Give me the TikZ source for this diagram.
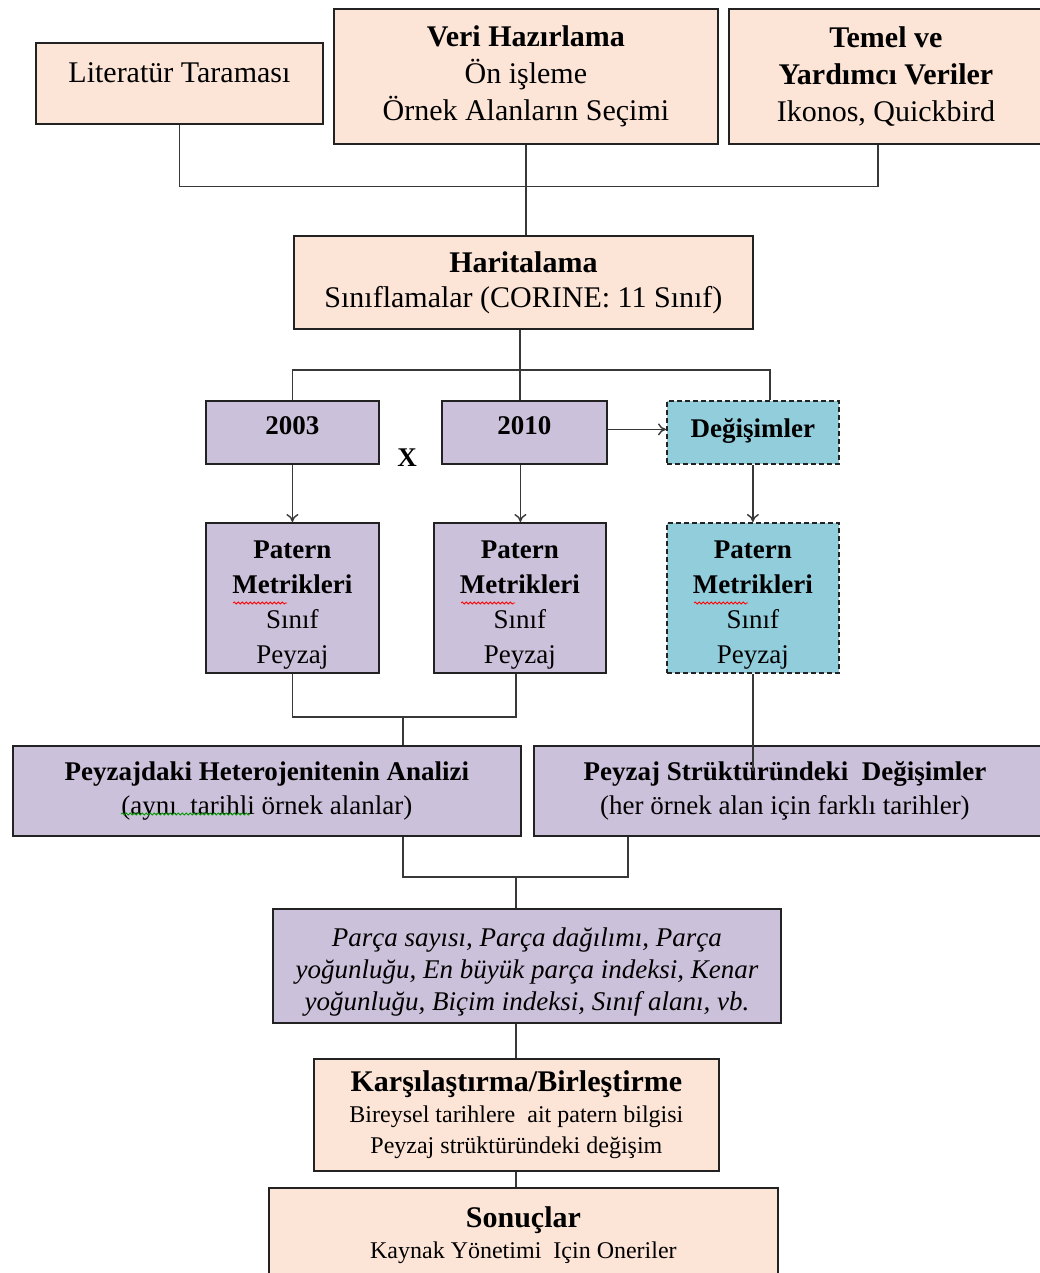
\documentclass[tikz,border=0pt]{standalone}
\usepackage{fontspec}
\setmainfont{Liberation Serif}
\usetikzlibrary{arrows.meta,decorations.pathmorphing}
\definecolor{peach}{HTML}{FCE4D6}
\definecolor{lilac}{HTML}{CCC1DA}
\definecolor{teal}{HTML}{92CDDC}
\definecolor{edge}{HTML}{222222}
\newcommand\fA{\fontsize{30}{37}\selectfont}
\newcommand\fB{\fontsize{27}{34}\selectfont}
\newcommand\fC{\fontsize{24}{31}\selectfont}
\newcommand\padtop[1]{\rule{0pt}{#1}}
\newcommand\padbot[1]{\rule[-#1]{0pt}{#1}}
\begin{document}
\begin{tikzpicture}[x=1pt,y=-1pt,
  basebox/.style={draw=edge, line width=1.8pt, inner sep=0pt, align=center, anchor=north west},
  peachbox/.style={basebox, fill=peach},
  lilacbox/.style={basebox, fill=lilac},
  tealbox/.style={basebox, fill=teal, dashed, dash pattern=on 5pt off 3pt},
  conn/.style={draw=edge!90, line width=1.4pt},
  arr/.style={conn, -{To[length=8pt,width=12pt]}},
  squig/.style={decorate, decoration={snake, amplitude=1pt, segment length=4pt}, line width=0.8pt}]
\useasboundingbox (0,0) rectangle (1039,1273);
\fill[white] (0,0) rectangle (1039,1273);

% top row
\node[peachbox, minimum width=287pt, minimum height=81pt, font=\fA] (lit) at (35,42) {Literatür Taraması\padbot{22pt}};
\node[peachbox, minimum width=384pt, minimum height=135pt, font=\fA] (veri) at (333,8) {\textbf{Veri Hazırlama}\\Ön işleme\\Örnek Alanların Seçimi};
\node[peachbox, minimum width=330pt, minimum height=135pt, font=\fA] (tem) at (728,8) {\hspace*{-16pt}\textbf{Temel ve}\\\hspace*{-16pt}\textbf{Yardımcı Veriler}\\\hspace*{-16pt}Ikonos, Quickbird};

\node[peachbox, minimum width=459pt, minimum height=93pt, font=\fA] (har) at (293,235) {\textbf{Haritalama}\\[-2pt]Sınıflamalar (CORINE: 11 Sınıf)};

% years
\node[lilacbox, minimum width=173pt, minimum height=63pt, font=\fB\bfseries] (y03) at (205,400) {2003\padbot{14pt}};
\node[lilacbox, minimum width=165pt, minimum height=63pt, font=\fB\bfseries] (y10) at (441,400) {2010\padbot{14pt}};
\node[tealbox, minimum width=172pt, minimum height=63pt, font=\fB\bfseries] (ch) at (666,400) {Değişimler\padbot{8pt}};
\node[font=\fB\bfseries, inner sep=0pt] (xx) at (407,458) {X};

% pattern metrics
\node[lilacbox, minimum width=173pt, minimum height=150pt, font=\fontsize{27}{35}\selectfont] (p1) at (205,522) {\padtop{33pt}\textbf{Patern}\\\textbf{Metrikleri}\\Sınıf\\Peyzaj};
\node[lilacbox, minimum width=172pt, minimum height=150pt, font=\fontsize{27}{35}\selectfont] (p2) at (433,522) {\padtop{33pt}\textbf{Patern}\\\textbf{Metrikleri}\\Sınıf\\Peyzaj};
\node[tealbox, minimum width=172pt, minimum height=150pt, font=\fontsize{27}{35}\selectfont] (p3) at (666,522) {\padtop{33pt}\textbf{Patern}\\\textbf{Metrikleri}\\Sınıf\\Peyzaj};

% analysis row
\node[lilacbox, minimum width=508pt, minimum height=90pt, font=\fB] (het) at (12,745) {\textbf{Peyzajdaki Heterojenitenin Analizi}\\(aynı\ \ tarihli örnek alanlar)};
\node[lilacbox, minimum width=520pt, minimum height=90pt, font=\fB] (str) at (533,745) {\hspace*{-18pt}\textbf{Peyzaj Strüktüründeki\ \ Değişimler}\\\hspace*{-18pt}(her örnek alan için farklı tarihler)};

% metrics list
\node[lilacbox, minimum width=508pt, minimum height=114pt, font=\fontsize{27}{32}\selectfont\itshape] (par) at (272,908) {\padtop{31pt}Parça sayısı, Parça dağılımı, Parça\\yoğunluğu, En büyük parça indeksi, Kenar\\yoğunluğu, Biçim indeksi, Sınıf alanı, vb.};

% comparison and results
\node[peachbox, minimum width=405pt, minimum height=112pt, font=\fC] (kar) at (313,1058) {{\fontsize{30}{36}\selectfont\bfseries Karşılaştırma/Birleştirme}\\Bireysel tarihlere\ \ ait patern bilgisi\\Peyzaj strüktüründeki değişim};
\node[peachbox, minimum width=509pt, minimum height=95pt, font=\fC] (son) at (268,1187) {{\fontsize{30}{36}\selectfont\bfseries Sonuçlar}\\Kaynak Yönetimi\ \ Için Oneriler};

% connectors
\draw[conn] (lit.south) -- ++(0,62) -| ([xshift=150pt]tem.south west);
\draw[conn] (veri.south) -- (veri.south |- har.north);
\coordinate (sp) at (520,370);
\draw[conn] (sp |- har.south) -- (sp |- y10.north);
\draw[conn] (y03.north) |- (sp) -| ([xshift=104pt]ch.north west);
\draw[arr] ([yshift=3pt]y10.east) -- ([yshift=3pt]ch.west);
\draw[arr] (y03.south) -- (y03.south |- p1.north);
\draw[arr] ([xshift=-4pt]y10.south) -- ([xshift=-4pt]y10.south |- p2.north);
\draw[arr] (ch.south) -- (ch.south |- p3.north);

\coordinate (j2) at (403,717);
\draw[conn] (p1.south) |- (j2) -| ([xshift=83pt]p2.south west);
\draw[conn] (j2) -- (j2 |- het.north);
\draw[conn] (p3.south) -- ([yshift=-26pt]p3.south |- str.north);

\coordinate (j3) at (516,877);
\draw[conn] (het.south -| j2) |- (j3) -| ([xshift=95pt]str.south west);
\draw[conn] (j3) -- (j3 |- par.north);
\draw[conn] (j3 |- par.south) -- (j3 |- kar.north);
\draw[conn] (j3 |- kar.south) -- (j3 |- son.north);

% spell-check squiggles
\draw[squig, red] (233,603) -- (287,603);
\draw[squig, red] (461,603) -- (515,603);
\draw[squig, red] (694,603) -- (748,603);
\draw[squig, green!60!black] (121,814) -- (250,814);
\end{tikzpicture}
\end{document}
